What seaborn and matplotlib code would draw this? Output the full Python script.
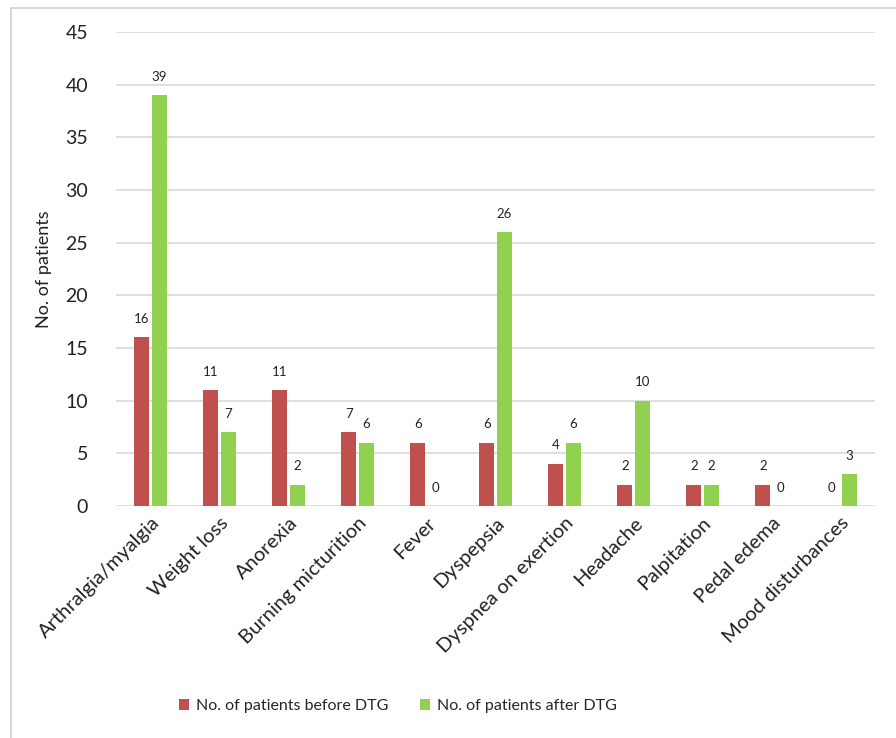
import matplotlib
matplotlib.use("Agg")
import matplotlib.pyplot as plt
import seaborn as sns
import pandas as pd
from matplotlib.patches import Rectangle

symptoms = ["Arthralgia/myalgia", "Weight loss", "Anorexia", "Burning micturition",
            "Fever", "Dyspepsia", "Dyspnea on exertion", "Headache",
            "Palpitation", "Pedal edema", "Mood disturbances"]
before_dtg = [16, 11, 11, 7, 6, 6, 4, 2, 2, 2, 0]
after_dtg = [39, 7, 2, 6, 0, 26, 6, 10, 2, 0, 3]
series_names = ["No. of patients before DTG", "No. of patients after DTG"]
y_ticks = [0, 5, 10, 15, 20, 25, 30, 35, 40, 45]

df = pd.DataFrame({
    "symptom": symptoms * 2,
    "count": before_dtg + after_dtg,
    "group": [series_names[0]] * len(symptoms) + [series_names[1]] * len(symptoms),
})

sns.set_theme(style="white")
plt.rcParams["font.family"] = ["Lato", "DejaVu Sans"]

fig = plt.figure(figsize=(8.96, 7.38), dpi=100)
ax = fig.add_axes([116 / 896, 1 - 506 / 738, (875 - 116) / 896, (506 - 32) / 738])

palette = {series_names[0]: "#C0504D", series_names[1]: "#92D050"}
sns.barplot(data=df, x="symptom", y="count", hue="group", palette=palette,
            width=0.507, gap=0.14, ax=ax, legend=True, saturation=1,
            edgecolor="none", linewidth=0)

for container in ax.containers:
    ax.bar_label(container, fmt="%d", padding=9, fontsize=9.5, color="#222222")

ax.set_ylim(0, 45)
ax.set_yticks(y_ticks)
ax.set_yticklabels([str(v) for v in y_ticks], fontsize=14, color="#222222")
ax.yaxis.grid(True, color="#D9D9D9", linewidth=1.2)
ax.set_axisbelow(True)
for s in ax.spines.values():
    s.set_visible(False)
ax.tick_params(axis="both", length=0)
ax.tick_params(axis="y", pad=20)
ax.tick_params(axis="x", pad=6)
ax.set_xlabel("")
ax.set_ylabel("No. of patients", fontsize=13, color="#222222", labelpad=10)
plt.setp(ax.get_xticklabels(), rotation=45, ha="right", rotation_mode="anchor",
         fontsize=14.5, color="#222222")

handles, labels = ax.get_legend_handles_labels()
ax.get_legend().remove()
fig.legend(handles, labels, loc="center", bbox_to_anchor=(0.444, 1 - 706 / 738),
           ncol=2, frameon=False, fontsize=11.5, handlelength=0.65, handleheight=0.7,
           handletextpad=0.4, columnspacing=2.0)

# outer chart frame
fig.patches.append(Rectangle((10.5 / 896, -0.05), 1.0, 1 - 7.5 / 738 + 0.05,
                             transform=fig.transFigure, fill=False,
                             edgecolor="#D0D0D0", linewidth=1.2))

fig.savefig("out.png", dpi=100)
